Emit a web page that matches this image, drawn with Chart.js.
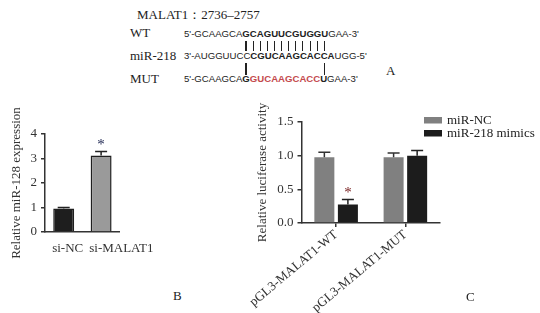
<!DOCTYPE html>
<html>
<head>
<meta charset="utf-8">
<script src="https://cdn.jsdelivr.net/npm/chart.js@4"></script>
<style>
  html, body { margin: 0; padding: 0; background: #fff; }
  body { width: 540px; height: 313px; position: relative; overflow: hidden; }
  .serif { position: absolute; font-family: "Liberation Serif", "Times New Roman", serif; font-size: 13px; line-height: 13px; color: #222; white-space: nowrap; }
  .seq { position: absolute; left: 184px; font-family: "Liberation Sans", Arial, sans-serif; font-size: 9.6px; line-height: 12px; color: #222; white-space: nowrap; }
  .seq b { font-weight: bold; }
  .red { color: #c44a4d; }
  .link { position: absolute; width: 1.2px; background: #222; }
  canvas { position: absolute; }
</style>
</head>
<body>

<!-- panel A -->
<div class="serif" style="left:137px;top:8px">MALAT1：2736–2757</div>
<div class="serif" style="left:130px;top:26px">WT</div>
<div class="serif" style="left:130px;top:49px">miR-218</div>
<div class="serif" style="left:130px;top:72px">MUT</div>
<div class="seq" id="wt" style="top:27.5px">5'-GCAAGCA<b id="wtb">GCAGUUCGUGGU</b>GAA-3'</div>
<div class="seq" id="mir" style="top:50px">3'-AUGGUUCC<b>CGUCAAGCACCA</b>UGG-5'</div>
<div class="seq" id="mut" style="top:73px">5'-GCAAGCA<b>G<span class="red">GUCAAGCACC</span>U</b>GAA-3'</div>
<div class="serif" style="left:386px;top:64px">A</div>

<canvas id="chartB" width="160" height="175" style="left:0px;top:95px"></canvas>
<canvas id="chartC" width="305" height="218" style="left:235px;top:95px"></canvas>

<div class="serif" style="left:173px;top:289px">B</div>
<div class="serif" style="left:466px;top:290px">C</div>

<script>
// panel B data
const bLabels = ['si-NC', 'si-MALAT1'];
const bValues = [0.96, 3.12];
const bErrors = [0.04, 0.17];
const bTicks = [0, 1, 2, 3, 4];

// panel C data
const cLabels = ['pGL3-MALAT1-WT', 'pGL3-MALAT1-MUT'];
const cSeries = ['miR-NC', 'miR-218 mimics'];
const cNC = [0.975, 0.975];
const cNCErr = [0.075, 0.065];
const cMimic = [0.275, 1.0];
const cMimicErr = [0.075, 0.075];
const cTicks = [0, 0.5, 1.0, 1.5];

const serif = '"Liberation Serif", "Times New Roman", serif';

// connector lines in panel A, lined up with the bold letters
const wtChars = document.getElementById('wtb');
const txt = wtChars.textContent;
wtChars.innerHTML = txt.split('').map(c => '<span>' + c + '</span>').join('');
const spans = wtChars.querySelectorAll('span');
spans.forEach((s, i) => {
  const r = s.getBoundingClientRect();
  const x = r.left + r.width / 2 - 0.6;
  let d = document.createElement('div');
  d.className = 'link';
  d.style.left = x + 'px'; d.style.top = '41px'; d.style.height = '9.5px';
  document.body.appendChild(d);
  if (i === 0 || i === spans.length - 1) {
    d = document.createElement('div');
    d.className = 'link';
    d.style.left = x + 'px'; d.style.top = '63px'; d.style.height = '12px';
    document.body.appendChild(d);
  }
});

// error bars + significance stars
const errorBars = {
  id: 'errorBars',
  afterDatasetsDraw(chart) {
    const ctx = chart.ctx;
    const y = chart.scales.y;
    chart.data.datasets.forEach((ds, di) => {
      if (!ds.errors) return;
      const meta = chart.getDatasetMeta(di);
      meta.data.forEach((bar, i) => {
        const top = y.getPixelForValue(ds.data[i]);
        const end = y.getPixelForValue(ds.data[i] + ds.errors[i]);
        ctx.save();
        ctx.strokeStyle = ds.errColor || '#222';
        ctx.lineWidth = 1.5;
        ctx.beginPath();
        ctx.moveTo(bar.x, top);
        ctx.lineTo(bar.x, end);
        ctx.moveTo(bar.x - 6, end);
        ctx.lineTo(bar.x + 6, end);
        ctx.stroke();
        if (ds.stars && ds.stars[i]) {
          ctx.fillStyle = ds.starColor || '#222';
          ctx.font = '15px ' + serif;
          ctx.textAlign = 'center';
          ctx.textBaseline = 'bottom';
          ctx.fillText('*', bar.x, end + 1);
        }
        ctx.restore();
      });
    });
  }
};

// small legend placed inside the top right of panel C
const cornerLegend = {
  id: 'cornerLegend',
  afterDraw(chart) {
    const ctx = chart.ctx;
    const x0 = chart.chartArea.right - 16;
    const y0 = chart.chartArea.top - 5;
    chart.data.datasets.forEach((ds, i) => {
      const y = y0 + i * 13;
      ctx.fillStyle = ds.backgroundColor;
      ctx.fillRect(x0, y, 18, 6.5);
      ctx.fillStyle = '#222';
      ctx.font = '13px ' + serif;
      ctx.textBaseline = 'middle';
      ctx.textAlign = 'left';
      ctx.fillText(ds.label, x0 + 23, y + 3.5);
    });
  }
};

function axisY(min, max, step, ticksList, title, titlePad, width, fmt) {
  return {
    min: min, max: max,
    afterFit: s => { s.width = width; },
    afterBuildTicks: s => { s.ticks = ticksList.map(v => ({ value: v })); },
    border: { display: true, color: '#333', width: 1.5 },
    grid: { drawOnChartArea: false, drawTicks: true, tickLength: 4, color: '#333', lineWidth: 1.5 },
    ticks: { stepSize: step, color: '#333', padding: 4, font: { family: serif, size: 13 }, callback: fmt },
    title: { display: true, text: title, color: '#333', font: { family: serif, size: 13 }, padding: { top: titlePad, bottom: 0 } }
  };
}

new Chart(document.getElementById('chartB'), {
  type: 'bar',
  data: {
    labels: bLabels,
    datasets: [{
      data: bValues,
      errors: bErrors,
      stars: [false, true],
      starColor: '#1c2450',
      backgroundColor: ['#1e1e1e', '#9a9a9a'],
      borderColor: '#1e1e1e',
      borderWidth: 1.5,
      barPercentage: 0.56,
      categoryPercentage: 1.0
    }]
  },
  options: {
    responsive: false,
    animation: false,
    layout: { padding: { top: 39, right: 38, left: 0, bottom: 0 } },
    plugins: { legend: { display: false }, tooltip: { enabled: false } },
    scales: {
      x: {
        afterFit: s => { s.height = 38; },
        border: { display: true, color: '#333', width: 1.5 },
        grid: { display: false },
        ticks: {
          color: '#333', padding: 1, labelOffset: 4, autoSkip: false, minRotation: 0, maxRotation: 0,
          font: { family: serif, size: 13 },
          // the second label sits to the right of its bar in the original
          callback: (v, i) => (i === 1 ? '\u2002\u2002\u2002\u2002\u2002' : '') + bLabels[i]
        }
      },
      y: axisY(0, 4, 1, bTicks, 'Relative miR-128 expression', 9, 45, v => v)
    }
  },
  plugins: [errorBars]
});

new Chart(document.getElementById('chartC'), {
  type: 'bar',
  data: {
    labels: cLabels,
    datasets: [
      { label: cSeries[0], data: cNC, errors: cNCErr, errColor: '#333', backgroundColor: '#808080',
        barPercentage: 0.85, categoryPercentage: 0.68 },
      { label: cSeries[1], data: cMimic, errors: cMimicErr, stars: [true, false], starColor: '#7a2222',
        errColor: '#222', backgroundColor: '#1c1c1c', barPercentage: 0.85, categoryPercentage: 0.68 }
    ]
  },
  options: {
    responsive: false,
    animation: false,
    layout: { padding: { top: 27, right: 100, left: 0, bottom: 0 } },
    plugins: { legend: { display: false }, tooltip: { enabled: false } },
    scales: {
      x: {
        afterFit: s => { s.height = 90; },
        border: { display: true, color: '#333', width: 1.5 },
        grid: { offset: false, drawOnChartArea: false, drawTicks: true, tickLength: 4, color: '#333', lineWidth: 1.5 },
        ticks: { color: '#333', padding: 0, autoSkip: false, minRotation: 40, maxRotation: 40, font: { family: serif, size: 13 } }
      },
      y: axisY(0, 1.5, 0.5, cTicks, 'Relative luciferase activity', 19, 66, v => v.toFixed(1))
    }
  },
  plugins: [errorBars, cornerLegend]
});
</script>
</body>
</html>
